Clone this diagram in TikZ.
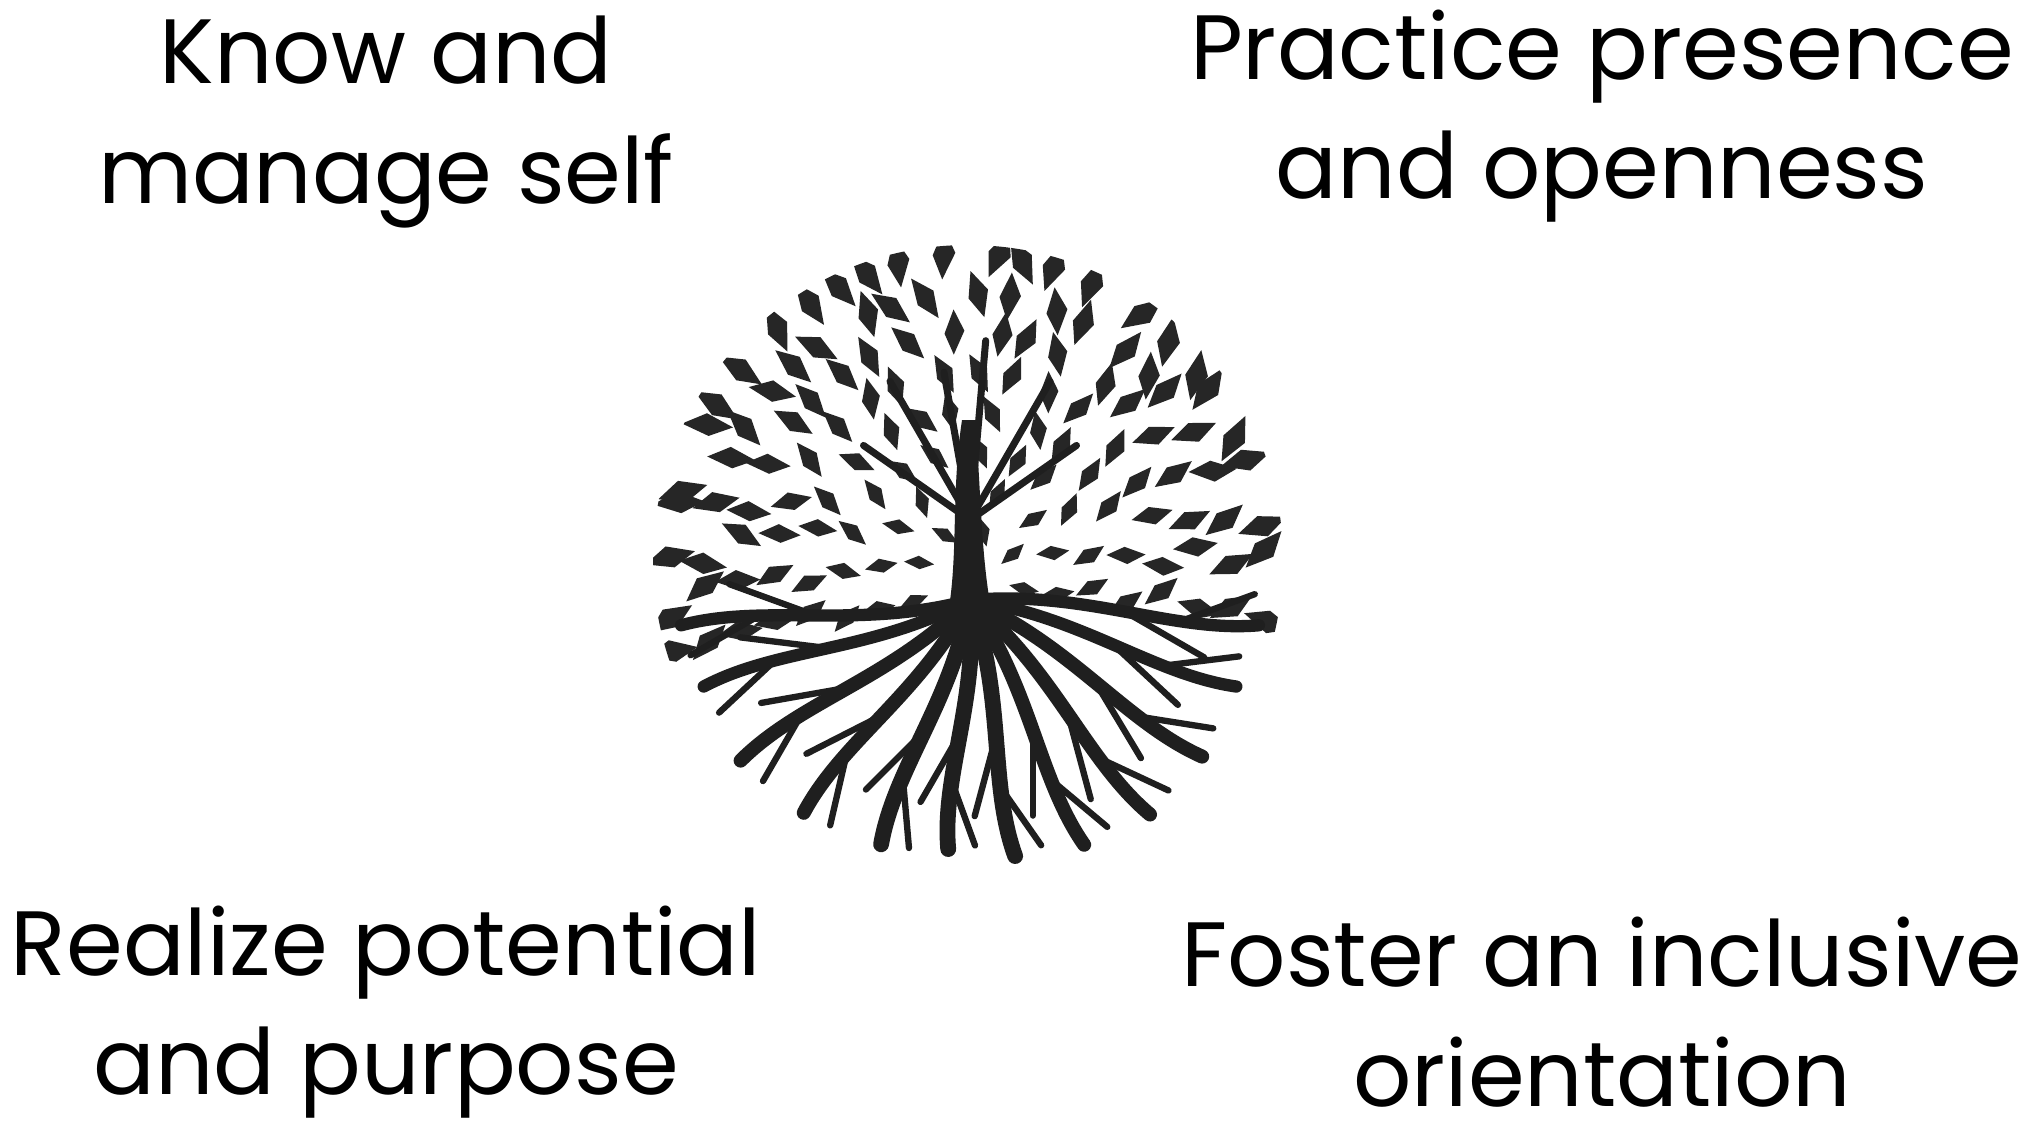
\documentclass[tikz,border=0pt]{standalone}
\usepackage{fontspec}
\usetikzlibrary{calc}
\setmainfont{Poppins}
\begin{document}
\begin{tikzpicture}[x=1cm,y=1cm,
  lbl/.style={align=center,font=\fontsize{26}{34}\selectfont,inner sep=0pt},
  leaf/.style={fill=black!85,draw=none},
  root/.style={draw=black!88,line cap=round,line join=round}]
\useasboundingbox[fill=white] (0,0) rectangle (20.21,-11.2);
\node[lbl] (tl) at (3.86,-1.22) {Know and\\manage self};
\node[lbl] (tr) at (16.02,-1.16) {Practice presence\\and openness};
\node[lbl] (bl) at (3.86,-10.12) {Realize potential\\and purpose};
\node[lbl] (br) at (16.02,-10.12) {Foster an inclusive\\orientation};
\coordinate (rb) at (9.7,-6.0);
% canopy
\pgfmathsetseed{7}
\begin{scope}
\clip (9.68,-5.6) circle (3.15);
\foreach \r/\n in {0.55/5,0.9/8,1.25/11,1.6/14,1.95/17,2.3/20,2.65/23,3.0/26}{
  \foreach \k in {0,...,\n}{
    \pgfmathsetmacro{\a}{-6+192*\k/\n+rnd*6}
    \pgfmathsetmacro{\s}{0.09+0.03*\r}
    \pgfmathsetmacro{\rot}{\a+rnd*60-30}
    \pgfmathsetmacro{\cx}{9.68+\r*cos(\a)}
    \pgfmathsetmacro{\cy}{-5.9+\r*sin(\a)*1.12}
    \fill[leaf,rotate around={\rot:(\cx,\cy)}]
      (\cx,\cy) ++(-\s*1.4,0) -- ++(\s*1.2,\s*0.8) -- ++(\s*1.6,-\s*0.3) -- ++(-\s*1.2,-\s*0.9) -- cycle;
  }
}
\end{scope}
% trunk and branches
\fill[black!88] (9.45,-6.3) .. controls (9.6,-5.6) and (9.5,-5.0) .. (9.62,-4.2)
  -- (9.75,-4.2) .. controls (9.82,-5.0) and (9.8,-5.6) .. (9.95,-6.3) -- cycle;
\foreach \a/\l in {60/1.6,120/1.6,35/1.3,145/1.3,85/1.8,100/1.5}{
  \draw[root,line width=2pt] (9.7,-5.2) .. controls +(\a:\l*0.4) and +(\a+180:\l*0.3) .. +(\a:\l);
}
% roots
\foreach \a/\l/\w in {185/2.9/3.5,198/2.8/3.5,215/2.8/4,232/2.7/4,250/2.6/4.5,265/2.5/4.5,280/2.6/4.5,295/2.7/4,310/2.8/4,326/2.8/4,342/2.8/3.5,355/2.9/3.5}{
  \draw[root,line width=\w pt] (rb) .. controls +(\a+10:\l*0.4) and +(\a+190:\l*0.3) .. +(\a:\l);
  \draw[root,line width=1.8pt] ($(rb)+(\a:\l*0.55)$) -- +(\a-25:\l*0.3);
  \draw[root,line width=1.8pt] ($(rb)+(\a:\l*0.75)$) -- +(\a+25:\l*0.25);
}
\end{tikzpicture}
\end{document}
